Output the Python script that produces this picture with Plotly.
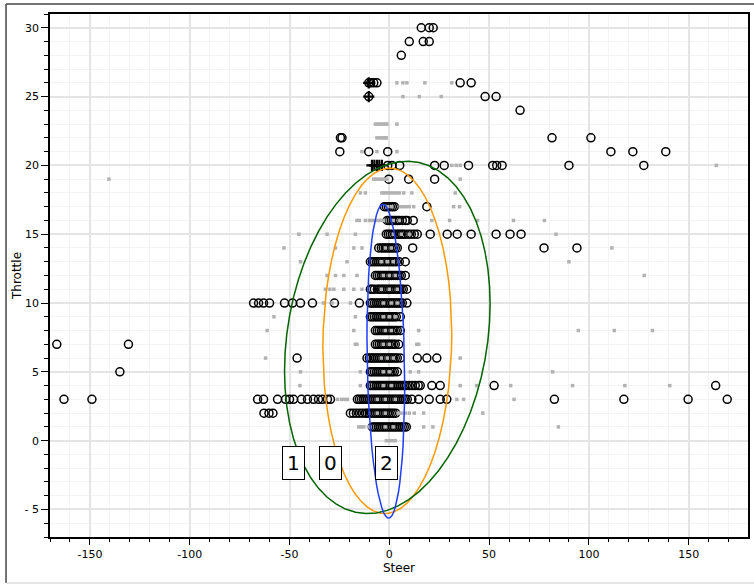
import numpy as np
import plotly.graph_objects as go

# ---------------- data: black open circles, per throttle level ----------------
c30 = [16, 20, 22]
c29 = [10, 17, 20]
c28 = [6]
c26 = [-10.3, -9.3, -7.8, -6.2, 35.5, 41]
c25 = [-10.3, 48, 53.5]
c24 = [65.5]
c22 = [-24.5, -23.7, 81.5, 101]
c21 = [-24.8, -10.3, -0.8, 111, 122, 138.5]
c20 = [-0.8, 1.3, 5.2, 22.7, 27.5, 39.7, 51.8, 53.8, 56.5, 90, 127.5]
c19 = [-0.3, 9.7, 22.7]
c17 = [-2.5, -1.5, -0.5, 0.5, 1.5, 2.5, 18.8]
c16 = [-1, 0, 1, 2, 3, 4, 5, 6.5, 8, 9, 12]
c15 = [-1.5, -0.5, 0.5, 1.5, 3, 4, 5, 6, 7, 8, 9.5, 11, 12.5, 14, 20.5, 29, 34, 41,
       53.5, 60.5, 66]
c14 = [-5.3, -4, -3, -2, -1, 0, 1, 2, 3, 4, 11.7, 77.5, 94]
c13 = [-9.5, -8.5, -7.5, -6.5, -5.5, -4.5, -3.5, -2.5, -1.5, -0.5, 0.5, 1.5, 2.5, 3.5,
       5, 8]
c12 = [-7, -6, -5, -4, -3, -2, -1, 0, 1, 2, 3, 4, 5, 6, 8]
c11 = [-9.5, -8.5, -7.5, -6, -5, -4, -3, -2, -1, 0, 1, 2, 3, 4, 5, 6, 7, 8.8]
c10 = [-68, -65.5, -63, -60, -52.5, -48.5, -44.5, -38.5, -27.5, -15, -9.5, -8.5, -7.5,
       -6.5, -5.5, -4.5, -3.5, -2.5, -1.5, -0.5, 0.5, 1.5, 2.5, 3.5, 4.5, 5.5, 6.5, 8.8]
c9 = [-9.5, -8.5, -7.5, -6.5, -5.5, -4.5, -3.5, -2.5, -1.5, -0.5, 0.5, 1.5, 2.5, 3.5, 5.5]
c8 = [-7, -6, -5, -4, -3, -2, -1, 0, 1, 2, 3, 4, 5.5]
c7 = [-166.6, -130.7, -7, -6, -5, -4, -3, -2, -1, 0, 1, 2, 3, 4.7]
c6 = [-46.2, -11.2, -10, -9, -8, -7, -6, -5, -4, -3, -2, -1, 0, 1, 2, 3, 4, 5.5,
      14, 18.8, 23.8]
c5 = [-135, -9.5, -8.5, -7.5, -6.5, -5.5, -4.5, -3.5, -2.5, -1.5, -0.5, 0.5, 1.5, 2.5, 4]
c4 = [-9.5, -8.5, -7.5, -6.5, -5.5, -4.5, -3.5, -2.5, -1.5, -0.5, 0.5, 1.5, 2.5, 3.5,
      4.5, 5.5, 6.5, 7.5, 8.5, 10, 11.5, 13, 14.5, 15.5, 21.3, 25.5, 52.5, 163.5]
c3 = [-163, -149, -66, -63, -56, -52, -50, -48, -44, -41, -38, -35.5, -33.5, -31, -29.5,
      -16, -15, -14, -13, -12, -11, -10, -9, -8, -7, -6, -5, -4, -3, -2, -1, 0, 1, 2,
      3, 4, 5, 6, 7, 8, 9, 11.3, 14.7, 20, 25.5, 28.8, 82.7, 117.5, 149.7, 169.3]
c2 = [-62.8, -60.3, -58.3, -19.5, -18, -16.5, -15, -13.5, -12, -11, -10, -9, -8, -7,
      -6, -5, -4, -3, -2, -1, 0, 1, 2, 3.2]
c1 = [-8.5, -7.5, -6.5, -5.5, -4.5, -3.5, -2.5, -1.5, -0.5, 0.5, 1.5, 2.5, 3.5, 4.5,
      5.5, 6.5, 7.5, 8.5]

circle_rows = {30: c30, 29: c29, 28: c28, 26: c26, 25: c25, 24: c24, 22: c22, 21: c21,
               20: c20, 19: c19, 17: c17, 16: c16, 15: c15, 14: c14, 13: c13, 12: c12,
               11: c11, 10: c10, 9: c9, 8: c8, 7: c7, 6: c6, 5: c5, 4: c4, 3: c3,
               2: c2, 1: c1}

# black "+" marks
plus_x = [-8.7, -7.5, -6.2, -5, -3.7, -10.3, -10.3]
plus_y = [20, 20, 20, 20, 20, 26, 25]

# ---------------- data: gray squares, per throttle level ----------------
g26 = [3.8, 6.8, 8.8, 17.8, 31.3]
g25 = [6.8, 15, 26]
g23 = [-7, -6, -5, -4, -3, -2, -1.2, 3.8]
g22 = [-6.2, -5, -4, -3, -2, -1.5]
g21 = [-13.7, -6.2, 3.8]
g20 = [31.3, 33.5, 35.5, 163.8]
g19 = [-140.5, -7.8, -6.5, -5, -3.7, -2.5, -1.2, 35.5]
g18 = [-14.5, -12, -3.7, -2.5, -1, 0.5, 2, 3.5, 5, 7.2, 11.3, 33]
g17 = [-1, 1, 5.5, 7, 8.5, 10, 12.2, 32.2, 35.2]
g16 = [-16.2, -15, -12, -10, -8.5, -7, -5.5, -4, -2.8, 2, 5, 21.3, 30.2, 44.2, 62.2, 77.7]
g15 = [-45.3, -31.2, -17, 2, 6, 10, 83.5]
g14 = [-52.8, -27, -17.8, -13.7, -2, 1, 111.5]
g13 = [-44.5, -21.2, -4, -1, 2, 90]
g12 = [-31.2, -27, -22.8, -16.2, -3, 0, 3, 127.7]
g11 = [-32, -29.8, -27.8, -22.8, -17.8, -13.7, -4, 0, 4]
g10 = [-33, -28.7, -19.5, -3, 1, 4]
g9 = [-57.8, -17, -3, 0, 3]
g8 = [-61.2, -17.8, -2, 1, 14.7, 94.7, 112.7, 131.8]
g7 = [-17, -16.2, -3, 0, 13.8, 14.7]
g6 = [-62, -4, -1, 2, 35.5]
g5 = [-44.5, -14.5, -3, 0, 10.5, 14.7, 81.8]
g4 = [-44.8, -14.5, -3, 1, 35.5, 43.8, 60.8, 91.8, 118, 140.5]
g3 = [-26, -24, -22.5, -21, -6, -2, 3, 33.8, 37.2, 62.5]
g2 = [-6, -2, 4.5, 6, 8, 10, 12.5, 17.2, 46.8]
g1 = [-15.3, -14, -12.8, -10.5, -2, 2, 17.2, 21.8, 84.7]
g0 = [-1.5, 0, 1.5, 3]

gray_rows = {26: g26, 25: g25, 23: g23, 22: g22, 21: g21, 20: g20, 19: g19, 18: g18,
             17: g17, 16: g16, 15: g15, 14: g14, 13: g13, 12: g12, 11: g11, 10: g10,
             9: g9, 8: g8, 7: g7, 6: g6, 5: g5, 4: g4, 3: g3, 2: g2, 1: g1, 0: g0}

# ---------------- cluster ellipses (center, std-x, std-y, correlation) ----------------
cluster_names = ["0", "1", "2"]
ell_cx = [-1.0, -1.0, -1.75]
ell_cy = [7.25, 7.5, 5.77]
ell_sx = [32.3, 51.5, 9.45]
ell_sy = [12.55, 12.8, 11.4]
ell_rho = [0.04, 0.19, -0.15]
ell_colors = ["#ff9900", "#006400", "#1f3dff"]

label_text = ["1", "0", "2"]
label_x = [-48.2, -29.5, -1.5]
label_y = [-1.6, -1.6, -1.6]

x_tickvals = [-150, -100, -50, 0, 50, 100, 150]
x_ticktext = ["-150", "-100", "-50", "0", "50", "100", "150"]
y_tickvals = [-5, 0, 5, 10, 15, 20, 25, 30]
y_ticktext = ["- 5", "0", "5", "10", "15", "20", "25", "30"]

# ---------------- build ----------------
cx, cy = [], []
for yv, xs in circle_rows.items():
    cx += xs
    cy += [yv] * len(xs)
gx, gy = [], []
for yv, xs in gray_rows.items():
    gx += xs
    gy += [yv] * len(xs)

fig = go.Figure()
fig.add_trace(go.Scatter(x=cx, y=cy, mode="markers",
                         marker=dict(symbol="circle-open", size=8, color="black",
                                     line=dict(width=1.5, color="black")),
                         hoverinfo="skip"))
fig.add_trace(go.Scatter(x=plus_x, y=plus_y, mode="markers",
                         marker=dict(symbol="cross-thin-open", size=8, color="black",
                                     line=dict(width=2.2, color="black")),
                         hoverinfo="skip"))
fig.add_trace(go.Scatter(x=gx, y=gy, mode="markers",
                         marker=dict(symbol="square", size=3.5, color="#b2b2b2",
                                     line=dict(width=0)),
                         hoverinfo="skip"))

t = np.linspace(0, 2 * np.pi, 61)
for i in range(3):
    ex = ell_cx[i] + ell_sx[i] * np.cos(t)
    ey = ell_cy[i] + ell_sy[i] * (ell_rho[i] * np.cos(t) +
                                  np.sqrt(1 - ell_rho[i] ** 2) * np.sin(t))
    fig.add_trace(go.Scatter(x=ex, y=ey, mode="lines",
                             line=dict(color=ell_colors[i], width=1.5),
                             name=cluster_names[i], hoverinfo="skip"))

for txt, lx, ly in zip(label_text, label_x, label_y):
    fig.add_annotation(x=lx, y=ly, text=txt, showarrow=False,
                       font=dict(size=20, color="black", family="DejaVu Sans"),
                       bgcolor="white", bordercolor="black", borderwidth=1,
                       borderpad=4)

axis_common = dict(showline=True, linecolor="black", linewidth=1.5, mirror=True,
                   ticks="outside", tickcolor="black", showgrid=True,
                   gridcolor="#e4e4e4", gridwidth=1.5, zeroline=False,
                   automargin=False,
                   tickfont=dict(size=11, color="black"))

fig.update_xaxes(range=[-170, 179.7], tickmode="array", tickvals=x_tickvals,
                 ticktext=x_ticktext, ticklen=6,
                 minor=dict(tickmode="linear", tick0=0, dtick=10, ticks="outside",
                            ticklen=3, tickcolor="black", showgrid=True,
                            gridcolor="#f3f3f3", gridwidth=1),
                 title=dict(text="Steer", font=dict(size=12), standoff=2),
                 **axis_common)
fig.update_yaxes(range=[-7, 31], tickmode="array", tickvals=y_tickvals,
                 ticktext=y_ticktext, ticklen=7,
                 minor=dict(tickmode="linear", tick0=0, dtick=1, ticks="outside",
                            ticklen=4, tickcolor="black", showgrid=True,
                            gridcolor="#f3f3f3", gridwidth=1),
                 title=dict(text="Throttle", font=dict(size=12), standoff=0),
                 **axis_common)

# outer frame
fig.add_shape(type="line", xref="paper", yref="paper", x0=-0.063, x1=-0.063,
              y0=-0.088, y1=1.019, line=dict(color="#444444", width=1.5))
fig.add_shape(type="line", xref="paper", yref="paper", x0=-0.063, x1=1.02,
              y0=1.019, y1=1.019, line=dict(color="#444444", width=1.5))
fig.add_shape(type="line", xref="paper", yref="paper", x0=-0.063, x1=1.02,
              y0=-0.088, y1=-0.088, line=dict(color="#cccccc", width=1))

fig.update_layout(width=754, height=584, margin=dict(l=50, r=6, t=14, b=47),
                  plot_bgcolor="white", paper_bgcolor="white", showlegend=False,
                  font=dict(family="DejaVu Sans", size=11, color="black"))

fig.write_html("out.html", config={"displayModeBar": False},
               post_script="document.body.style.margin='0';"
                           "document.body.style.overflow='hidden';")
